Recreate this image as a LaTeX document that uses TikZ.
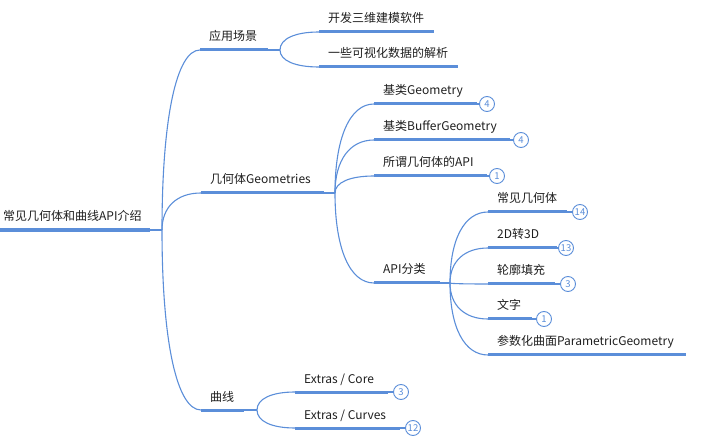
\documentclass[tikz,border=0pt]{standalone}
\usepackage{fontspec}
\setmainfont{Noto Sans CJK SC}
\usetikzlibrary{calc}
\definecolor{lb}{HTML}{5B8ED9}
\definecolor{tx}{HTML}{1E1E1E}
\newcommand\mmtopic[5]{%
  \coordinate (#1s) at (#2,#4);
  \coordinate (#1e) at (#3,#4);
  \draw[bar] (#1s) -- (#1e);
  \node[lbl] (#1) at ($(#1s)+(9,-9)$) {#5};
}
\newcommand\mmlink[2]{\draw[conn] (#1) .. controls ($(#1)!0.62!(#1 |- #2)$) and ($(#2)!0.62!(#1 |- #2)$) .. (#2);}
\begin{document}
\begin{tikzpicture}[x=1pt,y=-1pt,
  conn/.style={draw=lb, line width=1.1pt},
  bar/.style={draw=lb, line width=3pt},
  lbl/.style={anchor=base west, inner sep=0pt, font=\fontsize{12}{14}\selectfont, text=tx},
  badge/.style={circle, draw=lb, fill=white, line width=0.9pt, minimum size=15pt, inner sep=0pt, text=lb, font=\fontsize{9.5}{10}\selectfont}]
\useasboundingbox (0,0) rectangle (707,438);

% root
\coordinate (rs) at (0,230);
\coordinate (re) at (150,230);
\coordinate (rb) at (162,230);
\draw[draw=lb, line width=3.5pt] (rs) -- (re);
\node[lbl] (root) at (3,221) {常见几何体和曲线API介绍};
\draw[conn] (re) -- (rb);

% level 1
\mmtopic{A}{200}{268}{50}{应用场景}
\mmtopic{B}{201}{324}{193}{几何体Geometries}
\mmtopic{C}{201}{244}{410}{曲线}
\coordinate (Ab) at (280,50);
\coordinate (Bb) at (335,193);
\coordinate (Cb) at (257,410);
\draw[conn] (Ae) -- (Ab);
\draw[conn] (Be) -- (Bb);
\draw[conn] (Ce) -- (Cb);
\mmlink{rb}{As}
\mmlink{rb}{Bs}
\mmlink{rb}{Cs}

% 应用场景 children
\mmtopic{a1}{319}{434}{32}{开发三维建模软件}
\mmtopic{a2}{319}{458}{67}{一些可视化数据的解析}
\mmlink{Ab}{a1s}
\mmlink{Ab}{a2s}

% Geometries children
\mmtopic{b1}{374}{477}{104}{基类Geometry}
\mmtopic{b2}{374}{510}{140}{基类BufferGeometry}
\mmtopic{b3}{374}{487}{176}{所谓几何体的API}
\mmtopic{b4}{374}{440}{283}{API分类}
\coordinate (b4b) at (450,283);
\draw[conn] (b4e) -- (b4b);
\mmlink{Bb}{b1s}
\mmlink{Bb}{b2s}
\mmlink{Bb}{b3s}
\mmlink{Bb}{b4s}
\node[badge] (n1) at (487,104) {4};
\node[badge] (n2) at (521,140) {4};
\node[badge] (n3) at (497,176) {1};
\draw[conn] (b1e) -- (n1);
\draw[conn] (b2e) -- (n2);
\draw[conn] (b3e) -- (n3);

% API分类 children
\mmtopic{c1}{488}{567}{212}{常见几何体}
\mmtopic{c2}{488}{557}{248}{2D转3D}
\mmtopic{c3}{488}{555}{284}{轮廓填充}
\mmtopic{c4}{488}{532}{319}{文字}
\mmtopic{c5}{488}{686}{355}{参数化曲面ParametricGeometry}
\mmlink{b4b}{c1s}
\mmlink{b4b}{c2s}
\mmlink{b4b}{c3s}
\mmlink{b4b}{c4s}
\mmlink{b4b}{c5s}
\node[badge] (m1) at (580,212) {14};
\node[badge] (m2) at (566,248) {13};
\node[badge] (m3) at (568,284) {3};
\node[badge] (m4) at (544,319) {1};
\draw[conn] (c1e) -- (m1);
\draw[conn] (c2e) -- (m2);
\draw[conn] (c3e) -- (m3);
\draw[conn] (c4e) -- (m4);

% 曲线 children
\mmtopic{d1}{295}{388}{392}{Extras / Core}
\mmtopic{d2}{295}{400}{428}{Extras / Curves}
\mmlink{Cb}{d1s}
\mmlink{Cb}{d2s}
\node[badge] (k1) at (401,392) {3};
\node[badge] (k2) at (413,428) {12};
\draw[conn] (d1e) -- (k1);
\draw[conn] (d2e) -- (k2);
\end{tikzpicture}
\end{document}
